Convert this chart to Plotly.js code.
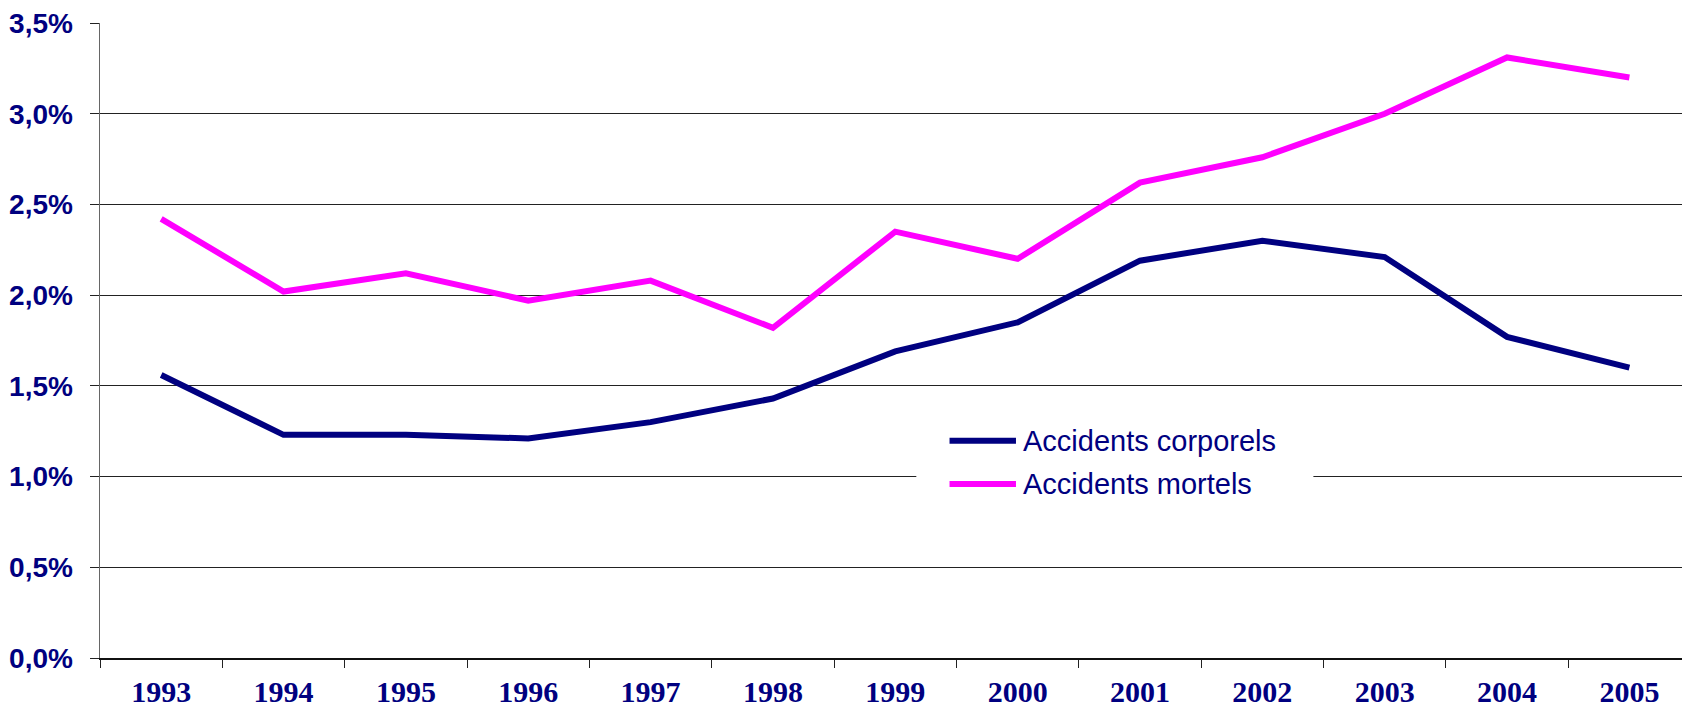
<!DOCTYPE html>
<html>
<head>
<meta charset="utf-8">
<script src="https://cdn.plot.ly/plotly-3.0.1.min.js"></script>
<style>
  html, body { margin: 0; padding: 0; background: #fff; }
  #graph { width: 1682px; height: 708px; }
</style>
</head>
<body>
<div id="graph"></div>
<script>
const years = ["1993", "1994", "1995", "1996", "1997", "1998", "1999",
  "2000", "2001", "2002", "2003", "2004", "2005"]
const corporels = [1.56, 1.23, 1.23, 1.21, 1.30, 1.43, 1.69, 1.85, 2.19, 2.30, 2.21, 1.77, 1.60]
const mortels = [2.42, 2.02, 2.12, 1.97, 2.08, 1.82, 2.35, 2.20, 2.62, 2.76, 3.00, 3.31, 3.20]
const yTicks = [0, 0.5, 1, 1.5, 2, 2.5, 3, 3.5]
const yTickText = ["0,0%", "0,5%", "1,0%", "1,5%", "2,0%", "2,5%", "3,0%", "3,5%"]
const seriesNames = ["Accidents corporels", "Accidents mortels"]

const navy = "#000080"
const pink = "#ff00ff"

const data = [
  {
    x: years,
    y: corporels,
    mode: "lines",
    name: seriesNames[0],
    line: { color: navy, width: 6 },
  },
  {
    x: years,
    y: mortels,
    mode: "lines",
    name: seriesNames[1],
    line: { color: pink, width: 6 },
  },
]

// legend drawn by hand so the line samples are as long as in the original
const legendShapes = [
  { type: "rect", xref: "paper", yref: "paper", x0: 0.516, x1: 0.767, y0: 0.24, y1: 0.39,
    fillcolor: "#fff", line: { width: 0 }, layer: "above" },
  { type: "line", xref: "paper", yref: "paper", x0: 0.537, x1: 0.579, y0: 0.342, y1: 0.342,
    line: { color: navy, width: 6 }, layer: "above" },
  { type: "line", xref: "paper", yref: "paper", x0: 0.537, x1: 0.579, y0: 0.274, y1: 0.274,
    line: { color: pink, width: 6 }, layer: "above" },
]
const legendText = [
  { xref: "paper", yref: "paper", x: 0.582, y: 0.342, xanchor: "left", yanchor: "middle",
    text: seriesNames[0], showarrow: false,
    font: { family: "Liberation Sans, Arial", size: 29, color: navy } },
  { xref: "paper", yref: "paper", x: 0.582, y: 0.274, xanchor: "left", yanchor: "middle",
    text: seriesNames[1], showarrow: false,
    font: { family: "Liberation Sans, Arial", size: 29, color: navy } },
]

const layout = {
  width: 1682,
  height: 708,
  margin: { l: 100, r: 0, t: 23, b: 50 },
  paper_bgcolor: "#fff",
  plot_bgcolor: "#fff",
  showlegend: false,
  xaxis: {
    type: "category",
    range: [-0.5, 12.43],
    tickson: "boundaries",
    ticks: "outside",
    ticklen: 8,
    tickcolor: "#222",
    showgrid: false,
    showline: true,
    linecolor: "#111",
    linewidth: 1.5,
    ticklabelstandoff: 6,
    tickfont: { family: "Liberation Serif, Times New Roman", size: 30, color: navy, weight: "bold" },
  },
  yaxis: {
    range: [0, 3.5],
    tickvals: yTicks,
    ticktext: yTickText,
    ticks: "outside",
    ticklen: 9,
    tickcolor: "#222",
    showgrid: true,
    gridcolor: "#222",
    gridwidth: 1,
    zeroline: false,
    showline: true,
    linecolor: "#666",
    linewidth: 1.5,
    ticklabelstandoff: 11,
    tickfont: { family: "Liberation Sans, Arial", size: 28, color: navy, weight: "bold" },
  },
  shapes: legendShapes,
  annotations: legendText,
}

Plotly.newPlot("graph", data, layout, { displayModeBar: false, staticPlot: true })
</script>
</body>
</html>
